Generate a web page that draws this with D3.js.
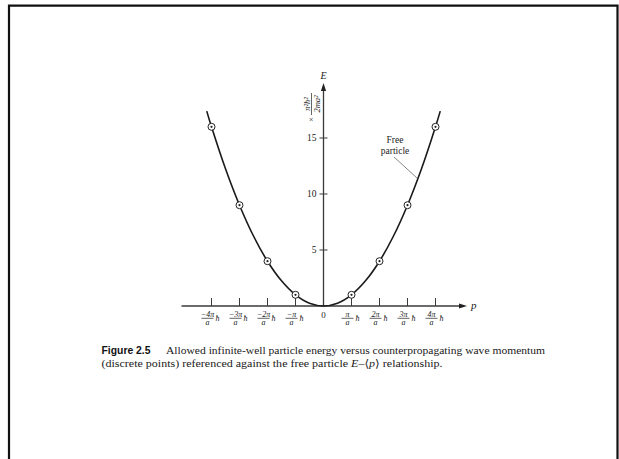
<!DOCTYPE html>
<html>
<head>
<meta charset="utf-8">
<script src="https://cdn.jsdelivr.net/npm/d3@7"></script>
<style>
body { margin: 0; background: #fff; }
svg { display: block; }
.serif { font-family: "Liberation Serif", "DejaVu Serif", serif; fill: #1a1a1a; }
</style>
</head>
<body>
<div id="chart"></div>
<script>
// discrete infinite-well levels, in units of pi*hbar/a and pi^2 hbar^2 / 2ma^2
var levelN = [-4, -3, -2, -1, 1, 2, 3, 4];
var levelE = [16, 9, 4, 1, 1, 4, 9, 16];

// free particle curve
var freeP = [-4.17, -4, -3.5, -3, -2.5, -2, -1.5, -1, -0.5, 0, 0.5, 1, 1.5, 2, 2.5, 3, 3.5, 4, 4.17];
var freeE = [17.4, 16, 12.25, 9, 6.25, 4, 2.25, 1, 0.25, 0, 0.25, 1, 2.25, 4, 6.25, 9, 12.25, 16, 17.4];

var xTickN = [-4, -3, -2, -1, 1, 2, 3, 4];
var xTickNum = ["\u22124\u03c0", "\u22123\u03c0", "\u22122\u03c0", "\u2212\u03c0", "\u03c0", "2\u03c0", "3\u03c0", "4\u03c0"];
var yTicks = [5, 10, 15];

var w = 619, h = 459;
var svg = d3.select("#chart").append("svg").attr("width", w).attr("height", h);

// page frame (bottom edge cut off in the scan)
svg.append("path")
	.attr("d", "M9," + (h + 2) + "V5.7H617.5V" + (h + 2))
	.attr("fill", "none")
	.attr("stroke", "#111")
	.attr("stroke-width", 2.2);

var x = d3.scaleLinear().domain([-5, 5]).range([183.5, 463.5]);
var y = d3.scaleLinear().domain([0, 15]).range([306, 138]);

var axisColor = "#3a3a3a";

// p axis
svg.append("line")
	.attr("x1", 181.5).attr("x2", 462)
	.attr("y1", y(0)).attr("y2", y(0))
	.attr("stroke", axisColor).attr("stroke-width", 1.3);
svg.append("path")
	.attr("d", "M467," + y(0) + "l-8,-2.6v5.2z")
	.attr("fill", "#222");
svg.append("text").attr("class", "serif")
	.attr("x", 471).attr("y", y(0) + 3)
	.style("font-size", "11px").style("font-style", "italic")
	.text("p");

// E axis
svg.append("line")
	.attr("x1", x(0)).attr("x2", x(0))
	.attr("y1", y(0)).attr("y2", 89)
	.attr("stroke", axisColor).attr("stroke-width", 1.3);
svg.append("path")
	.attr("d", "M" + x(0) + ",83l-2.6,8h5.2z")
	.attr("fill", "#222");
svg.append("text").attr("class", "serif")
	.attr("x", x(0)).attr("y", 79)
	.attr("text-anchor", "middle")
	.style("font-size", "10px").style("font-style", "italic")
	.text("E");

// E ticks
var yt = svg.selectAll(".ytick").data(yTicks).enter().append("g")
	.attr("class", "ytick")
	.attr("transform", function(d) { return "translate(0," + y(d) + ")"; });
yt.append("line")
	.attr("x1", x(0) - 4).attr("x2", x(0) + 4)
	.attr("stroke", axisColor).attr("stroke-width", 1);
yt.append("text").attr("class", "serif")
	.attr("x", x(0) - 7).attr("dy", "0.34em")
	.attr("text-anchor", "end")
	.style("font-size", "9.5px")
	.text(function(d) { return d; });

// rotated unit label  x pi^2 hbar^2 / 2ma^2
var ul = svg.append("g").attr("transform", "translate(311,104) rotate(-90)");
ul.append("text").attr("class", "serif")
	.attr("x", -18).attr("y", 3)
	.style("font-size", "9px")
	.text("\u00d7");
ul.append("text").attr("class", "serif")
	.attr("x", 0).attr("y", -1.5)
	.attr("text-anchor", "middle")
	.style("font-size", "8.5px").style("font-style", "italic")
	.text("\u03c0\u00b2\u0127\u00b2");
ul.append("line")
	.attr("x1", -11).attr("x2", 11)
	.attr("y1", 0.5).attr("y2", 0.5)
	.attr("stroke", "#222").attr("stroke-width", 0.7);
ul.append("text").attr("class", "serif")
	.attr("x", 0).attr("y", 8.5)
	.attr("text-anchor", "middle")
	.style("font-size", "8.5px").style("font-style", "italic")
	.text("2ma\u00b2");

// p ticks with fraction labels
var xt = svg.selectAll(".xtick").data(xTickN).enter().append("g")
	.attr("class", "xtick")
	.attr("transform", function(d) { return "translate(" + x(d) + "," + y(0) + ")"; });
xt.append("line")
	.attr("y1", 0).attr("y2", -8)
	.attr("stroke", axisColor).attr("stroke-width", 1);
xt.append("text").attr("class", "serif")
	.attr("x", -4).attr("y", 10.5)
	.attr("text-anchor", "middle")
	.style("font-size", "8px").style("font-style", "italic")
	.text(function(d, i) { return xTickNum[i]; });
xt.append("line")
	.attr("x1", -10).attr("x2", 2)
	.attr("y1", 12.3).attr("y2", 12.3)
	.attr("stroke", "#222").attr("stroke-width", 0.7);
xt.append("text").attr("class", "serif")
	.attr("x", -4).attr("y", 18.5)
	.attr("text-anchor", "middle")
	.style("font-size", "8px").style("font-style", "italic")
	.text("a");
xt.append("text").attr("class", "serif")
	.attr("x", 4).attr("y", 14.5)
	.style("font-size", "8px").style("font-style", "italic")
	.text("\u0127");
svg.append("text").attr("class", "serif")
	.attr("x", x(0)).attr("y", y(0) + 12)
	.attr("text-anchor", "middle")
	.style("font-size", "9px")
	.text("0");

// free particle parabola
var line = d3.line()
	.x(function(d, i) { return x(freeP[i]); })
	.y(function(d) { return y(d); })
	.curve(d3.curveCatmullRom.alpha(0.5));
svg.append("path")
	.datum(freeE)
	.attr("d", line)
	.attr("fill", "none")
	.attr("stroke", "#1a1a1a")
	.attr("stroke-width", 1.6);

// discrete points
var pt = svg.selectAll(".pt").data(levelE).enter().append("g")
	.attr("class", "pt")
	.attr("transform", function(d, i) { return "translate(" + x(levelN[i]) + "," + y(d) + ")"; });
pt.append("circle").attr("r", 3.5)
	.attr("fill", "#fff").attr("stroke", "#222").attr("stroke-width", 1);
pt.append("circle").attr("r", 1.1)
	.attr("fill", "#222");

// annotation
svg.append("text").attr("class", "serif")
	.attr("x", 395).attr("y", 142.5)
	.attr("text-anchor", "middle")
	.style("font-size", "9.5px")
	.text("Free");
svg.append("text").attr("class", "serif")
	.attr("x", 395).attr("y", 153.5)
	.attr("text-anchor", "middle")
	.style("font-size", "9.5px")
	.text("particle");
svg.append("line")
	.attr("x1", 394).attr("y1", 157)
	.attr("x2", 417).attr("y2", 178)
	.attr("stroke", "#555").attr("stroke-width", 0.7);

// caption
var cap = svg.append("g");
cap.append("text")
	.attr("x", 101.5).attr("y", 353.5)
	.attr("textLength", 49).attr("lengthAdjust", "spacingAndGlyphs")
	.style("font-family", "'Liberation Sans', Arial, sans-serif")
	.style("font-weight", "bold")
	.style("font-size", "10px")
	.style("fill", "#111")
	.text("Figure 2.5");
cap.append("text").attr("class", "serif")
	.attr("x", 166).attr("y", 353.5)
	.attr("textLength", 379).attr("lengthAdjust", "spacingAndGlyphs")
	.style("font-size", "11px")
	.text("Allowed infinite-well particle energy versus counterpropagating wave momentum");
var l2 = cap.append("text").attr("class", "serif")
	.attr("x", 101.5).attr("y", 366.5)
	.attr("textLength", 341).attr("lengthAdjust", "spacingAndGlyphs")
	.style("font-size", "11px");
l2.append("tspan").text("(discrete points) referenced against the free particle ");
l2.append("tspan").style("font-style", "italic").text("E");
l2.append("tspan").text("\u2013\u27e8");
l2.append("tspan").style("font-style", "italic").text("p");
l2.append("tspan").text("\u27e9 relationship.");
</script>
</body>
</html>
